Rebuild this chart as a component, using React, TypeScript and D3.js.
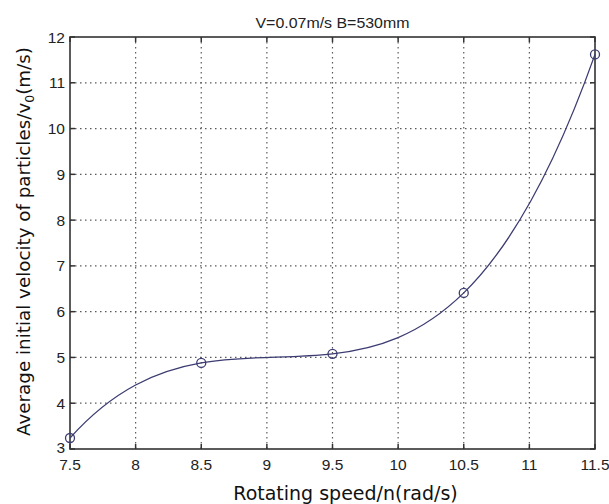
import React from "react";
import * as d3 from "d3";

const speeds = [7.5, 8.5, 9.5, 10.5, 11.5];
const velocities = [3.24, 4.88, 5.08, 6.41, 11.62];
const xTicks = [7.5, 8, 8.5, 9, 9.5, 10, 10.5, 11, 11.5];
const yTicks = [3, 4, 5, 6, 7, 8, 9, 10, 11, 12];
const titleText = "V=0.07m/s B=530mm";
const xLabelText = "Rotating speed/n(rad/s)";
const yLabelMain = "Average initial velocity of particles/v";
const yLabelSub = "0";
const yLabelEnd = "(m/s)";

// not-a-knot cubic spline curve (MATLAB "spline" style) as a d3 curve factory
function curveNotAKnot(context: any) {
  let xs: number[] = [];
  let ys: number[] = [];
  return {
    areaStart() {},
    areaEnd() {},
    lineStart() {
      xs = [];
      ys = [];
    },
    point(x: number, y: number) {
      xs.push(+x);
      ys.push(+y);
    },
    lineEnd() {
      const n = xs.length;
      if (n === 0) return;
      context.moveTo(xs[0], ys[0]);
      if (n < 4) {
        for (let i = 1; i < n; i++) context.lineTo(xs[i], ys[i]);
        return;
      }
      const h: number[] = [];
      for (let i = 0; i < n - 1; i++) h[i] = xs[i + 1] - xs[i];
      const A = Array.from({ length: n }, () => new Array(n).fill(0));
      const b = new Array(n).fill(0);
      A[0][0] = -h[1];
      A[0][1] = h[0] + h[1];
      A[0][2] = -h[0];
      for (let i = 1; i < n - 1; i++) {
        A[i][i - 1] = h[i - 1];
        A[i][i] = 2 * (h[i - 1] + h[i]);
        A[i][i + 1] = h[i];
        b[i] = 6 * ((ys[i + 1] - ys[i]) / h[i] - (ys[i] - ys[i - 1]) / h[i - 1]);
      }
      A[n - 1][n - 3] = -h[n - 2];
      A[n - 1][n - 2] = h[n - 3] + h[n - 2];
      A[n - 1][n - 1] = -h[n - 3];
      for (let c = 0; c < n; c++) {
        let p = c;
        for (let r = c + 1; r < n; r++) if (Math.abs(A[r][c]) > Math.abs(A[p][c])) p = r;
        [A[c], A[p]] = [A[p], A[c]];
        [b[c], b[p]] = [b[p], b[c]];
        for (let r = c + 1; r < n; r++) {
          const f = A[r][c] / A[c][c];
          for (let k = c; k < n; k++) A[r][k] -= f * A[c][k];
          b[r] -= f * b[c];
        }
      }
      const M = new Array(n).fill(0);
      for (let r = n - 1; r >= 0; r--) {
        let s = b[r];
        for (let k = r + 1; k < n; k++) s -= A[r][k] * M[k];
        M[r] = s / A[r][r];
      }
      for (let i = 0; i < n - 1; i++) {
        const hi = h[i];
        const d = (ys[i + 1] - ys[i]) / hi;
        const s0 = d - (hi * (2 * M[i] + M[i + 1])) / 6;
        const s1 = d + (hi * (M[i] + 2 * M[i + 1])) / 6;
        context.bezierCurveTo(
          xs[i] + hi / 3,
          ys[i] + (hi / 3) * s0,
          xs[i + 1] - hi / 3,
          ys[i + 1] - (hi / 3) * s1,
          xs[i + 1],
          ys[i + 1]
        );
      }
    },
  };
}

const W = 609;
const H = 504;
const L = 70;
const R = 595;
const T = 37;
const B = 449;

export default function App() {
  const x = d3.scaleLinear().domain([7.5, 11.5]).range([L, R]);
  const y = d3.scaleLinear().domain([3, 12]).range([B, T]);
  const pts = speeds.map((s, i) => [s, velocities[i]] as [number, number]);
  const line = d3
    .line<[number, number]>()
    .x((d) => x(d[0]))
    .y((d) => y(d[1]))
    .curve(curveNotAKnot as any);
  const lineColor = "#3c3c72";
  const gridColor = "#5a5a5a";
  const tickLen = 5;
  const tickFont = "Liberation Sans, Arial, sans-serif";
  const labelFont = "DejaVu Sans, Verdana, sans-serif";

  return (
    <svg
      width={W}
      height={H}
      style={{ position: "absolute", left: 0, top: 0, background: "#fff" }}
    >
      <rect x={0} y={0} width={W} height={H} fill="#fff" />
      {xTicks.slice(1, -1).map((t) => (
        <line
          key={"gx" + t}
          x1={x(t)}
          x2={x(t)}
          y1={T}
          y2={B}
          stroke={gridColor}
          strokeWidth={1.2}
          strokeDasharray="1.5 3.5"
        />
      ))}
      {yTicks.slice(1, -1).map((t) => (
        <line
          key={"gy" + t}
          x1={L}
          x2={R}
          y1={y(t)}
          y2={y(t)}
          stroke={gridColor}
          strokeWidth={1.2}
          strokeDasharray="1.5 3.5"
        />
      ))}
      {xTicks.map((t) => (
        <g key={"tx" + t}>
          <line x1={x(t)} x2={x(t)} y1={B} y2={B - tickLen} stroke="#333" strokeWidth={1.5} />
          <line x1={x(t)} x2={x(t)} y1={T} y2={T + tickLen} stroke="#333" strokeWidth={1.5} />
        </g>
      ))}
      {yTicks.map((t) => (
        <g key={"ty" + t}>
          <line x1={L} x2={L + tickLen} y1={y(t)} y2={y(t)} stroke="#333" strokeWidth={1.5} />
          <line x1={R} x2={R - tickLen} y1={y(t)} y2={y(t)} stroke="#333" strokeWidth={1.5} />
        </g>
      ))}
      <rect x={L} y={T} width={R - L} height={B - T} fill="none" stroke="#333" strokeWidth={1.6} />
      {xTicks.map((t) => (
        <text
          key={"lx" + t}
          x={x(t)}
          y={B + 21}
          textAnchor="middle"
          fontFamily={tickFont}
          fontSize={15.5}
          fill="#222"
        >
          {String(t)}
        </text>
      ))}
      {yTicks.map((t) => (
        <text
          key={"ly" + t}
          x={L - 5}
          y={t === 3 ? y(t) - 2 : y(t)}
          dy="0.36em"
          textAnchor="end"
          fontFamily={tickFont}
          fontSize={15.5}
          fill="#222"
        >
          {String(t)}
        </text>
      ))}
      <path d={line(pts) || ""} fill="none" stroke={lineColor} strokeWidth={1.3} />
      {pts.map((p, i) => (
        <circle
          key={"c" + i}
          cx={x(p[0])}
          cy={y(p[1])}
          r={4.5}
          fill="none"
          stroke={lineColor}
          strokeWidth={1.3}
        />
      ))}
      <text
        x={(L + R) / 2}
        y={28}
        textAnchor="middle"
        fontFamily={tickFont}
        fontSize={14}
        textLength={154}
        lengthAdjust="spacingAndGlyphs"
        fill="#222"
      >
        {titleText}
      </text>
      <text
        x={(L + R) / 2 + 13}
        y={500}
        textAnchor="middle"
        fontFamily={labelFont}
        fontSize={19}
        fill="#111"
      >
        {xLabelText}
      </text>
      <text
        transform={`translate(30, 241.5) rotate(-90)`}
        textAnchor="middle"
        fontFamily={labelFont}
        fontSize={18.3}
        fill="#111"
      >
        {yLabelMain}
        <tspan fontSize={12.5} dy={4}>
          {yLabelSub}
        </tspan>
        <tspan dy={-4}>{yLabelEnd}</tspan>
      </text>
    </svg>
  );
}
